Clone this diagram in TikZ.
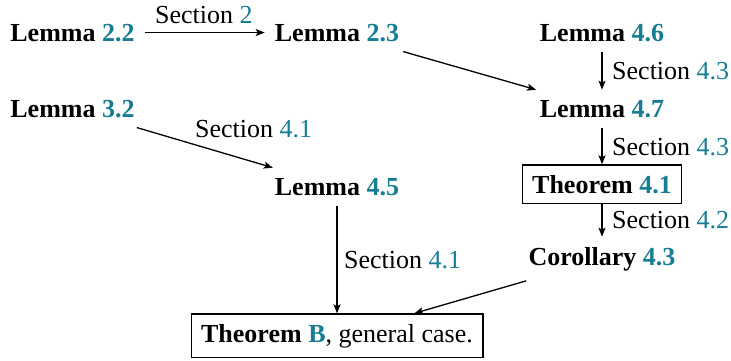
\documentclass[tikz,border=0pt]{standalone}
\usepackage{fontspec}
\setmainfont{Liberation Serif}
\usetikzlibrary{arrows.meta}
\definecolor{refteal}{RGB}{22,125,148}
\newcommand{\rf}[1]{\textcolor{refteal}{#1}}
\begin{document}
\begin{tikzpicture}[x=1pt,y=-1pt,
  every node/.style={font=\fontsize{26}{30}\selectfont},
  res/.style={inner sep=10pt, anchor=base, font=\fontsize{26}{30}\selectfont\bfseries},
  framed/.style={res, draw, line width=1.3pt},
  lab/.style={inner sep=0pt, anchor=base west},
  imp/.style={line width=1.3pt, -{Stealth[length=9pt,width=7pt,inset=2pt]}}]
  \useasboundingbox (0,0) rectangle (731,360);

  % results
  \node[res] (L22) at (72.5,41) {Lemma \rf{2.2}};
  \node[res] (L23) at (337,41) {Lemma \rf{2.3}};
  \node[res] (L46) at (602,41) {Lemma \rf{4.6}};
  \node[res] (L47) at (602,117) {Lemma \rf{4.7}};
  \node[res] (L32) at (72.5,117) {Lemma \rf{3.2}};
  \node[framed] (T41) at (602,193) {Theorem \rf{4.1}};
  \node[res] (L45) at (337,195) {Lemma \rf{4.5}};
  \node[res] (C43) at (602,265) {Corollary \rf{4.3}};
  \node[framed] (TB) at (337,342) {Theorem \rf{B}\mdseries, general case.};

  % implications
  \draw[imp] (L22) -- (L23);
  \draw[imp] (L23) -- (L47);
  \draw[imp] (L46) -- (L47);
  \draw[imp] (L47) -- (T41);
  \draw[imp] (T41) -- (C43);
  \draw[imp] (L32) -- (L45);
  \draw[imp] (L45) -- (TB);
  \draw[imp] (C43) -- (TB);

  % section labels
  \node[lab] (s2) at (155,23) {Section \rf{2}};
  \node[lab] (s43a) at (612,79) {Section \rf{4.3}};
  \node[lab] (s43b) at (612,155) {Section \rf{4.3}};
  \node[lab] (s42) at (612,228) {Section \rf{4.2}};
  \node[lab] (s41a) at (195,137) {Section \rf{4.1}};
  \node[lab] (s41b) at (344,268) {Section \rf{4.1}};
\end{tikzpicture}
\end{document}
